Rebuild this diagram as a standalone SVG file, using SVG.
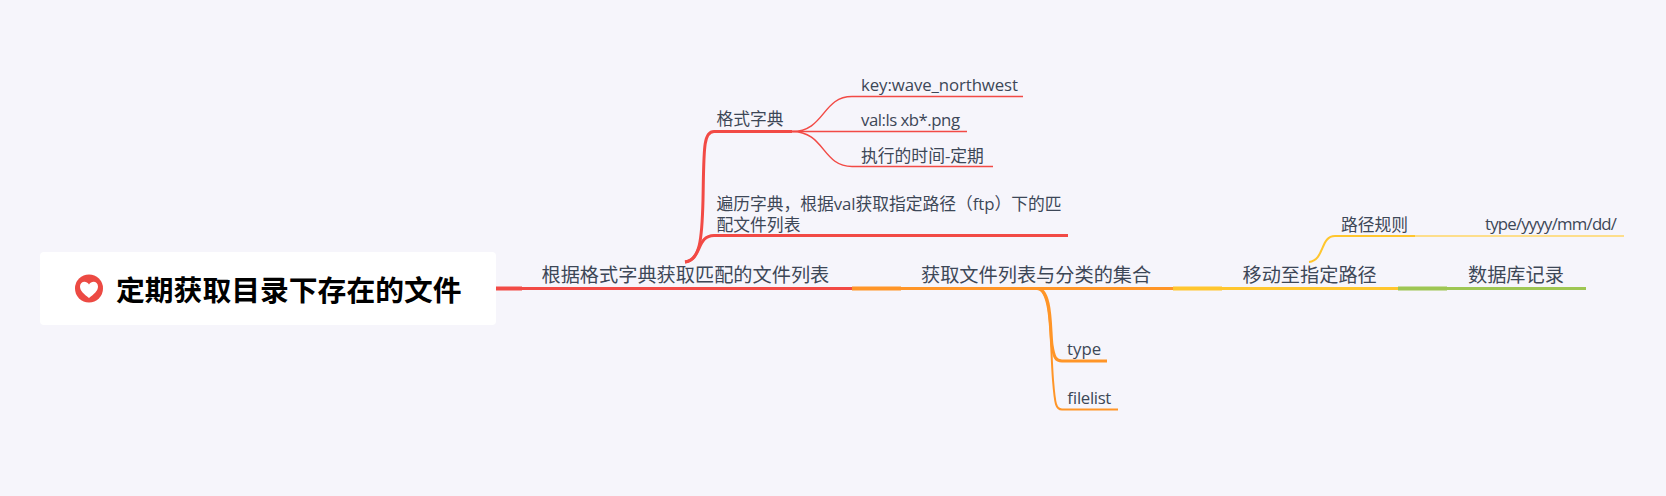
<svg xmlns="http://www.w3.org/2000/svg" width="1666" height="496" viewBox="0 0 1666 496">
<style>
text{font-family:"Open Sans","Noto Sans CJK SC",sans-serif;fill:#3d4757}
.t1{font-size:19.2px}
.t2{font-size:16.8px}
.l{fill:none;stroke-linecap:butt}
.red{stroke:#f24a45}
.ora{stroke:#ff9527}
.yel{stroke:#ffc62e}
.gre{stroke:#9ec653}
.w4{stroke-width:4}
.w3{stroke-width:3}
.w2{stroke-width:2}
.w15{stroke-width:1.500}
</style>
<rect width="1666" height="496" fill="#f6f5fb"/>
<g id="connectors">
<path class="l red w4" d="M496 288.500H522"/>
<path class="l red w3" d="M522 288.500H852"/>
<path class="l ora w4" d="M852 288.500H901"/>
<path class="l ora w3" d="M901 288.500H1173"/>
<path class="l yel w4" d="M1173 288.500H1222"/>
<path class="l yel w3" d="M1222 288.500H1398"/>
<path class="l gre w4" d="M1398 288.500H1447"/>
<path class="l gre w3" d="M1447 288.500H1586"/>
<path class="l red w3" d="M685 262C700 260 702 240 703 200C704 150 703 131.500 714 131.500H792"/>
<path class="l red w3" d="M685 262C702 260 696 235.500 714 235.500H1068"/>
<path class="l red w15" d="M792 131.500C825 131.500 822 96.500 852 96.500H1023"/>
<path class="l red w15" d="M792 131.500H967"/>
<path class="l red w15" d="M792 131.500C825 131.500 822 166.500 852 166.500H993"/>
<path class="l ora w3" d="M1037 288.500C1052 288.500 1050 330 1052 345C1054 358 1056 361 1062 361H1107"/>
<path class="l ora w2" d="M1037 288.500C1052 290 1050 340 1053 380C1055 405 1056 409.500 1062 409.500H1118"/>
<path class="l yel w2" d="M1309 262C1325 260 1320 236 1335 236H1415"/>
<path class="l yel w15" d="M1415 236H1624" style="stroke:#ffd666"/>
</g>
<g id="root">
<rect x="40" y="252" width="456" height="73" rx="4" fill="#fff"/>
<circle cx="89" cy="288.500" r="14" fill="#ec4a43"/>
<path d="M89 298C84 294 80 291 80 286.500C80 281 86.500 280 89 284.500C91.500 280 98 281 98 286.500C98 291 94 294 89 298Z" fill="#fff"/>
<text x="116" y="300.500" style="font-size:28.8px;font-weight:700;fill:#000">定期获取目录下存在的文件</text>
</g>
<g id="n1"><text class="t1" x="541.500" y="282">根据格式字典获取匹配的文件列表</text></g>
<g id="n2"><text class="t1" x="921" y="282">获取文件列表与分类的集合</text></g>
<g id="n3"><text class="t1" x="1242.500" y="282">移动至指定路径</text></g>
<g id="n4"><text class="t1" x="1468" y="282">数据库记录</text></g>
<g id="n5"><text class="t2" x="716.500" y="125">格式字典</text></g>
<g id="n6"><text class="t2" x="861" y="91" textLength="157">key:wave_northwest</text></g>
<g id="n7"><text class="t2" x="861" y="126" textLength="99">val:ls xb*.png</text></g>
<g id="n8"><text class="t2" x="861" y="161.500">执行的时间-定期</text></g>
<g id="n9"><text class="t2" x="716.500" y="210" textLength="345">遍历字典，根据val获取指定路径（ftp）下的匹</text><text class="t2" x="716.500" y="231">配文件列表</text></g>
<g id="n10"><text class="t2" x="1067" y="355">type</text></g>
<g id="n11"><text class="t2" x="1067" y="403.500" textLength="44">filelist</text></g>
<g id="n12"><text class="t2" x="1341" y="230.500">路径规则</text></g>
<g id="n13"><text class="t2" x="1485" y="230" textLength="132">type/yyyy/mm/dd/</text></g>
</svg>
